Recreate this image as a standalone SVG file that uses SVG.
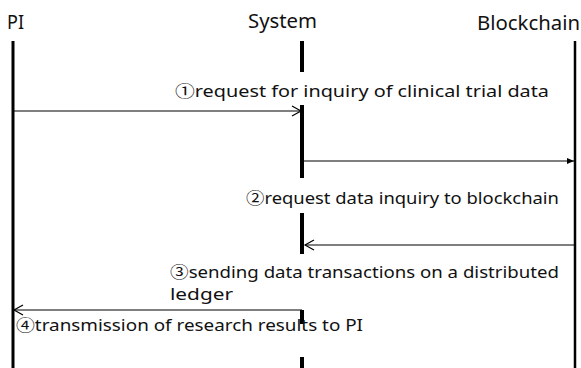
<svg xmlns="http://www.w3.org/2000/svg" width="581" height="368" viewBox="0 0 581 368">
<style>
text{font-family:"Noto Sans","Open Sans",sans-serif;fill:#111;}
.hd{font-size:20px;}
.lb{font-size:16px;}
.c{font-family:"Noto Sans CJK KR","Noto Sans",sans-serif;}
.life{stroke:#000;fill:none;}
.msg{stroke:#000;stroke-width:1.2;fill:none;}
</style>
<defs>
<marker id="open" markerWidth="12" markerHeight="12" refX="10" refY="6" orient="auto" markerUnits="userSpaceOnUse">
<path d="M1,1 L10,6 L1,11" fill="none" stroke="#000" stroke-width="1.2"/>
</marker>
<marker id="fill" markerWidth="8" markerHeight="8" refX="7" refY="4" orient="auto" markerUnits="userSpaceOnUse">
<path d="M0,1 L7,4 L0,7 Z" fill="#000"/>
</marker>
</defs>
<rect width="581" height="368" fill="#fff"/>
<g id="pi">
<text class="hd" x="7" y="29" textLength="17" lengthAdjust="spacingAndGlyphs">PI</text>
<line class="life" x1="13" y1="41" x2="13" y2="368" stroke-width="3"/>
</g>
<g id="system">
<text class="hd" x="248" y="28" textLength="69" lengthAdjust="spacingAndGlyphs">System</text>
<path class="life" stroke-width="4" d="M302,41V72 M302,105V178 M302,213V254 M302,310V324 M302,357V368"/>
</g>
<g id="blockchain">
<text class="hd" x="477" y="30" textLength="103" lengthAdjust="spacingAndGlyphs">Blockchain</text>
<line class="life" x1="575" y1="41" x2="575" y2="368" stroke-width="2.5"/>
</g>
<g id="connectors">
<line class="msg" x1="13" y1="111" x2="301" y2="111" marker-end="url(#open)"/>
<line class="msg" x1="302" y1="161" x2="574" y2="161" marker-end="url(#fill)"/>
<line class="msg" x1="575" y1="245" x2="305" y2="245" marker-end="url(#open)"/>
<line class="msg" x1="302" y1="310" x2="14" y2="310" marker-end="url(#open)"/>
</g>
<g id="labels">
<text class="lb" x="175" y="97" textLength="374" lengthAdjust="spacingAndGlyphs"><tspan class="c">①</tspan>request for inquiry of clinical trial data</text>
<text class="lb" x="246" y="204" textLength="313" lengthAdjust="spacingAndGlyphs"><tspan class="c">②</tspan>request data inquiry to blockchain</text>
<text class="lb" x="170" y="278" textLength="389" lengthAdjust="spacingAndGlyphs"><tspan class="c">③</tspan>sending data transactions on a distributed</text>
<text class="lb" x="170" y="300" textLength="63" lengthAdjust="spacingAndGlyphs">ledger</text>
<text class="lb" x="16" y="331" textLength="347" lengthAdjust="spacingAndGlyphs"><tspan class="c">④</tspan>transmission of research results to PI</text>
</g>
</svg>
